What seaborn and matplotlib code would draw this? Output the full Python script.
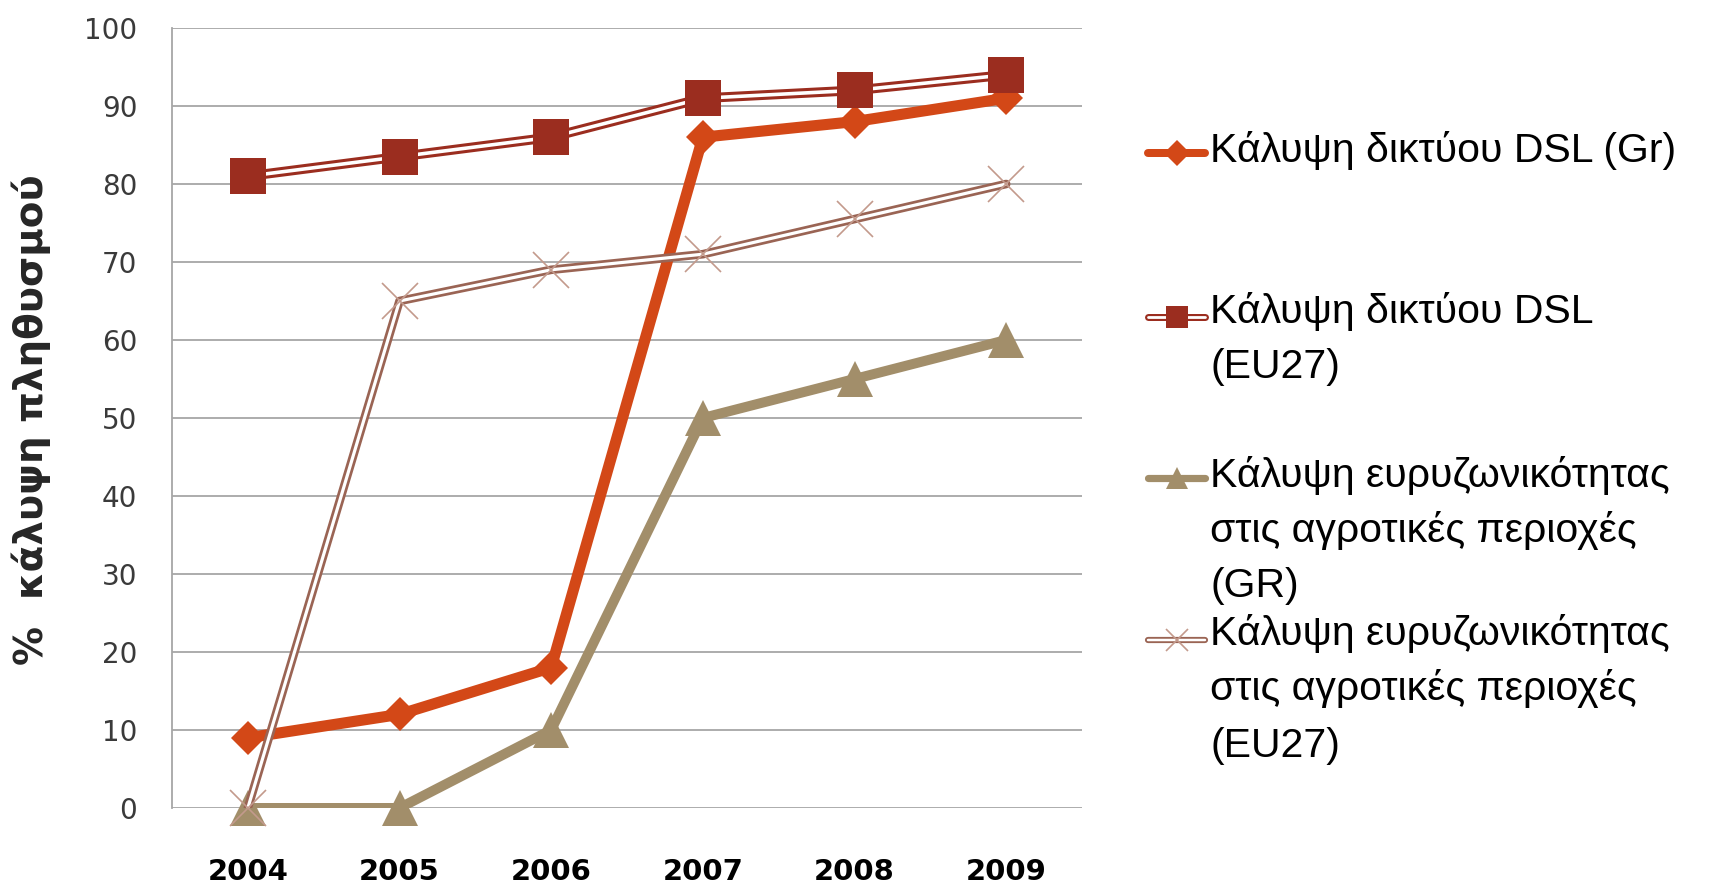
import matplotlib
matplotlib.use("Agg")
import matplotlib.pyplot as plt
import pandas as pd
import seaborn as sns

# ---- data -------------------------------------------------------------
years = ["2004", "2005", "2006", "2007", "2008", "2009"]
dsl_gr = [9, 12, 18, 86, 88, 91]
dsl_eu27 = [81, 83.5, 86, 91, 92, 94]
rural_gr = [0, 0, 10, 50, 55, 60]
rural_eu27 = [0, 65, 69, 71, 75.5, 80]

series_labels = [
    "Κάλυψη δικτύου DSL (Gr)",
    "Κάλυψη δικτύου DSL\n(EU27)",
    "Κάλυψη ευρυζωνικότητας\nστις αγροτικές περιοχές\n(GR)",
    "Κάλυψη ευρυζωνικότητας\nστις αγροτικές περιοχές\n(EU27)",
]
y_label = "%  κάλυψη πληθυσμού"
y_ticks = list(range(0, 101, 10))

# ---- styling ----------------------------------------------------------
sns.set_style("white")
plt.rcParams["font.family"] = ["Liberation Sans", "DejaVu Sans"]

W, H, DPI = 1717, 886, 100
fig = plt.figure(figsize=(W / DPI, H / DPI), dpi=DPI)
fig.patch.set_facecolor("white")

# plot area in pixels (left, top, right, bottom)
L, T, R, B = 172, 28, 1082, 808
ax = fig.add_axes([L / W, (H - B) / H, (R - L) / W, (B - T) / H])

GRID = "#A6A6A6"
styles = [
    # colour, line width, double line?, marker, marker size, marker colour, marker edge width
    dict(color="#D34817", lw=8.0, double=False, marker="D", ms=17, mc="#D34817", mew=0),
    dict(color="#9B2D1F", lw=7.0, double=True, marker="s", ms=26, mc="#9B2D1F", mew=0),
    dict(color="#A28E6A", lw=7.2, double=False, marker="^", ms=26, mc="#A28E6A", mew=0),
    dict(color="#9A6454", lw=6.2, double=True, marker="x", ms=26, mc="#C39A8C", mew=1.2),
]
values = [dsl_gr, dsl_eu27, rural_gr, rural_eu27]

for i, (vals, st) in enumerate(zip(values, styles)):
    df = pd.DataFrame({"year": years, "value": vals})
    z = 3 + 3 * i
    sns.lineplot(data=df, x="year", y="value", ax=ax, color=st["color"],
                 linewidth=st["lw"], errorbar=None, zorder=z,
                 solid_joinstyle="round", solid_capstyle="round")
    if st["double"]:
        sns.lineplot(data=df, x="year", y="value", ax=ax, color="white",
                     linewidth=st["lw"] * 0.37, errorbar=None, zorder=z + 0.5,
                     solid_joinstyle="round", solid_capstyle="round")
    ax.plot(df["year"], df["value"], linestyle="none", marker=st["marker"],
            markersize=st["ms"], color=st["mc"], markeredgecolor=st["mc"],
            markeredgewidth=st["mew"], zorder=z + 1, clip_on=False)

ax.set_xlim(-0.5, 5.5)
ax.set_ylim(0, 100)
ax.set_yticks(y_ticks)
ax.set_yticklabels([str(t) for t in y_ticks], family=["DejaVu Sans"], fontsize=20,
                   color="#3a3a3a")
ax.set_xticks(range(len(years)))
ax.set_xticklabels(years, family=["DejaVu Sans"], fontsize=21, fontweight="bold",
                   color="black")
ax.yaxis.grid(True, color=GRID, linewidth=1.3)
ax.xaxis.grid(False)
ax.set_axisbelow(True)
for side in ("top", "right", "bottom"):
    ax.spines[side].set_visible(False)
ax.spines["left"].set_color(GRID)
ax.spines["left"].set_linewidth(1.3)
ax.tick_params(axis="y", length=0, pad=25)
ax.tick_params(axis="x", length=0, pad=36)
ax.set_xlabel("")
ax.set_ylabel("")

fig.text(31 / W, 1 - 420 / H, y_label, rotation=90, ha="center", va="center",
         fontsize=28, fontweight="bold", family=["DejaVu Sans"])

# ---- legend, laid out in pixel coordinates on an overlay axes ----------
lax = fig.add_axes([0, 0, 1, 1])
lax.set_xlim(0, W)
lax.set_ylim(H, 0)
lax.axis("off")

hx0, hx1, hxc = 1148, 1205, 1177
handle_y = [153, 317, 478, 640]
line_baselines = [[162], [323, 378], [487, 542, 597], [645, 700, 757]]
leg_ms = [13, 16, 16, 16]
for st, hy, bls, label, ms in zip(styles, handle_y, line_baselines, series_labels, leg_ms):
    lw = st["lw"] * 0.72
    lax.plot([hx0, hx1], [hy, hy], color=st["color"], lw=lw, solid_capstyle="round")
    if st["double"]:
        lax.plot([hx0, hx1], [hy, hy], color="white", lw=lw * 0.4, solid_capstyle="round")
    lax.plot([hxc], [hy], linestyle="none", marker=st["marker"], markersize=ms,
             color=st["mc"], markeredgecolor=st["mc"], markeredgewidth=st["mew"])
    for text_line, bl in zip(label.split("\n"), bls):
        lax.text(1210, bl, text_line, ha="left", va="baseline", fontsize=29.5,
                 color="black")

fig.savefig("out.png", dpi=DPI, facecolor="white")
